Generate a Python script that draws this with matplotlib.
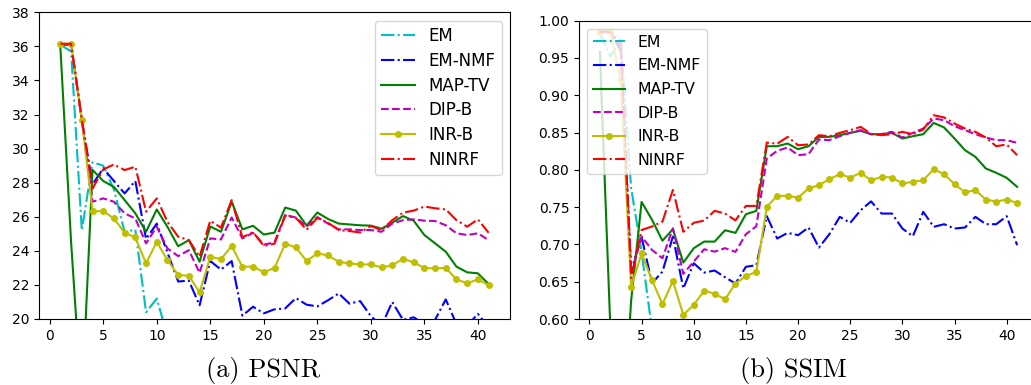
import matplotlib
matplotlib.use("Agg")
import matplotlib.pyplot as plt
import numpy as np

x = list(range(1, 42))
methods = ["EM", "EM-NMF", "MAP-TV", "DIP-B", "INR-B", "NINRF"]

psnr_em = [36.1, 35.7, 25.2, 29.2, 29.0, 27.6, 25.1, 25.25, 20.4, 21.2, 19.0,
           18.6, 18.4, 18.1, 18.3, 18.0, 17.8, 17.9, 17.6, 17.5, 17.7, 17.4,
           17.3, 17.5, 17.2, 17.1, 17.3, 17.0, 16.9, 17.1, 16.8, 16.9, 16.7,
           16.8, 16.6, 16.7, 16.5, 16.6, 16.4, 16.5, 16.3]
psnr_emnmf = [36.1, 36.1, 31.7, 27.9, 28.84, 28.1, 27.37, 28.1, 24.7, 25.6, 23.9,
              22.2, 22.25, 20.8, 23.4, 22.9, 23.4, 20.2, 20.72, 20.33, 20.57, 20.62,
              21.23, 20.84, 20.74, 21.1, 21.5, 20.9, 21.05, 20.17, 19.6, 21.0, 19.95,
              20.1, 19.7, 19.95, 21.15, 19.7, 19.6, 20.3, 19.5]
psnr_maptv = [35.9, 24.5, 15.0, 28.75, 28.1, 27.75, 26.98, 26.2, 25.12, 26.43, 25.41,
              24.27, 24.63, 23.36, 25.43, 25.12, 26.88, 25.26, 25.47, 24.96, 25.07, 26.54,
              26.36, 25.48, 26.25, 25.87, 25.6, 25.55, 25.5, 25.48, 25.3, 25.65, 26.04,
              25.77, 24.93, 24.44, 23.95, 23.07, 22.74, 22.68, 22.05]
psnr_dipb = [36.1, 36.1, 31.7, 26.88, 27.08, 26.88, 26.2, 25.9, 24.44, 25.42, 24.14,
             23.69, 24.04, 22.71, 24.73, 24.67, 25.96, 24.73, 25.06, 24.36, 24.5, 26.12,
             25.95, 25.42, 25.98, 25.6, 25.26, 25.26, 25.22, 25.22, 25.12, 25.6, 25.8,
             25.85, 25.77, 25.75, 25.5, 25.03, 24.93, 25.03, 24.63]
psnr_inrb = [36.15, 36.15, 31.7, 26.33, 26.33, 25.9, 25.06, 24.79, 23.26, 24.53, 23.46,
             22.58, 22.54, 21.56, 23.65, 23.52, 24.28, 23.07, 23.07, 22.75, 22.99, 24.42,
             24.2, 23.4, 23.85, 23.73, 23.36, 23.26, 23.2, 23.2, 23.03, 23.15, 23.54,
             23.32, 23.0, 22.97, 23.0, 22.32, 22.1, 22.32, 21.99]
psnr_ninrf = [36.15, 36.15, 31.7, 27.66, 28.78, 29.07, 28.74, 28.94, 26.3, 27.08, 25.7,
              24.83, 24.63, 23.65, 25.77, 25.36, 26.98, 24.79, 25.1, 24.29, 24.42, 26.07,
              25.93, 25.24, 25.93, 25.65, 25.22, 25.16, 25.08, 25.46, 25.22, 25.8, 26.24,
              26.36, 26.6, 26.5, 26.43, 25.8, 25.42, 25.85, 25.06]

ssim_em = [0.983, 0.952, 0.975, 0.775, 0.69, 0.585, 0.55, 0.54, 0.53, 0.525, 0.52,
           0.515, 0.51, 0.505, 0.5, 0.5, 0.495, 0.49, 0.49, 0.485, 0.48, 0.48,
           0.475, 0.47, 0.47, 0.465, 0.46, 0.46, 0.455, 0.45, 0.45, 0.445, 0.44,
           0.44, 0.435, 0.43, 0.43, 0.425, 0.42, 0.42, 0.415]
ssim_emnmf = [0.985, 0.985, 0.96, 0.665, 0.71, 0.648, 0.6635, 0.7105, 0.641, 0.6748, 0.6622,
              0.665, 0.656, 0.6476, 0.67, 0.6722, 0.7379, 0.7079, 0.7155, 0.7124, 0.7227,
              0.6958, 0.7137, 0.737, 0.7289, 0.7459, 0.7577, 0.7414, 0.7414, 0.7213, 0.711,
              0.7437, 0.7236, 0.7271, 0.7213, 0.7227, 0.737, 0.7271, 0.7271, 0.7379, 0.699]
ssim_maptv = [0.958, 0.59, 0.40, 0.625, 0.757, 0.733, 0.705, 0.7204, 0.6756, 0.6949, 0.7038,
              0.7038, 0.719, 0.7155, 0.7405, 0.745, 0.8317, 0.8317, 0.8353, 0.8277, 0.8317,
              0.8442, 0.8442, 0.8465, 0.8496, 0.8523, 0.8478, 0.8478, 0.8496, 0.842, 0.8451,
              0.8478, 0.863, 0.8568, 0.842, 0.8264, 0.8174, 0.8018, 0.796, 0.7893, 0.7772]
ssim_dipb = [0.985, 0.985, 0.965, 0.661, 0.7105, 0.6926, 0.6815, 0.7217, 0.6605, 0.677, 0.6935,
             0.6903, 0.695, 0.690, 0.7137, 0.7244, 0.8152, 0.8255, 0.83, 0.8197, 0.821,
             0.8407, 0.8398, 0.8451, 0.8496, 0.8532, 0.8478, 0.848, 0.851, 0.8433, 0.8496,
             0.8554, 0.8688, 0.8666, 0.8585, 0.8532, 0.8478, 0.8433, 0.8398, 0.8398, 0.8362]
ssim_inrb = [0.985, 0.985, 0.92, 0.643, 0.688, 0.652, 0.62, 0.651, 0.6055, 0.619, 0.638,
             0.634, 0.6265, 0.6475, 0.6575, 0.6632, 0.7504, 0.7651, 0.7651, 0.7629, 0.775,
             0.7794, 0.7875, 0.7942, 0.7897, 0.796, 0.786, 0.7906, 0.7897, 0.7817, 0.7839,
             0.7861, 0.8009, 0.7942, 0.7808, 0.77, 0.7727, 0.7602, 0.7575, 0.7602, 0.7557]
ssim_ninrf = [0.985, 0.985, 0.97, 0.655, 0.7194, 0.724, 0.7306, 0.773, 0.717, 0.729, 0.732,
              0.745, 0.7415, 0.7322, 0.7516, 0.7517, 0.8366, 0.835, 0.8442, 0.833, 0.834,
              0.8465, 0.845, 0.8496, 0.8532, 0.8576, 0.8482, 0.8465, 0.8478, 0.851, 0.8478,
              0.854, 0.8733, 0.8702, 0.8621, 0.8554, 0.851, 0.8433, 0.8317, 0.834, 0.8197]

psnr_ticks = [20, 22, 24, 26, 28, 30, 32, 34, 36, 38]
ssim_ticks = [0.60, 0.65, 0.70, 0.75, 0.80, 0.85, 0.90, 0.95, 1.00]
x_ticks = [0, 5, 10, 15, 20, 25, 30, 35, 40]

styles = [
    dict(color="c", linestyle="-."),
    dict(color="b", linestyle="-."),
    dict(color="g", linestyle="-"),
    dict(color="m", linestyle="--"),
    dict(color="y", linestyle="-", marker="o", markersize=4),
    dict(color="r", linestyle="-."),
]

W, H = 1031, 385
fig = plt.figure(figsize=(W / 100, H / 100), dpi=100)

ax1 = fig.add_axes([39 / W, 1 - 319 / H, (510 - 39) / W, (319 - 12.3) / H])
ax2 = fig.add_axes([579 / W, 1 - 319 / H, (1038 - 579) / W, (319 - 20.7) / H])

psnr_all = [psnr_em, psnr_emnmf, psnr_maptv, psnr_dipb, psnr_inrb, psnr_ninrf]
ssim_all = [ssim_em, ssim_emnmf, ssim_maptv, ssim_dipb, ssim_inrb, ssim_ninrf]

for name, vals, st in zip(methods, psnr_all, styles):
    ax1.plot(x, vals, label=name, linewidth=1.5, **st)
for name, vals, st in zip(methods, ssim_all, styles):
    ax2.plot(x, vals, label=name, linewidth=1.5, **st)

ax1.set_ylim(20, 38)
ax1.set_xlim(-1, 43)
ax1.set_yticks(psnr_ticks)
ax1.set_xticks(x_ticks)
ax2.set_ylim(0.6, 1.0)
ax2.set_xlim(-1, 43)
ax2.set_yticks(ssim_ticks)
ax2.set_yticklabels([f"{t:.2f}" for t in ssim_ticks])
ax2.set_xticks(x_ticks)

for ax in (ax1, ax2):
    ax.tick_params(labelsize=10)

ax1.legend(loc="upper right", fontsize=12, labelspacing=0.4)
ax2.legend(loc="upper left", fontsize=11.3, labelspacing=0.55)

fig.text(263.5 / W, 1 - 371 / H, "(a) PSNR", ha="center", va="center",
         fontname="cmr10", fontsize=19)
fig.text(793.5 / W, 1 - 371 / H, "(b) SSIM", ha="center", va="center",
         fontname="cmr10", fontsize=19)

fig.savefig("out.png", dpi=100)
